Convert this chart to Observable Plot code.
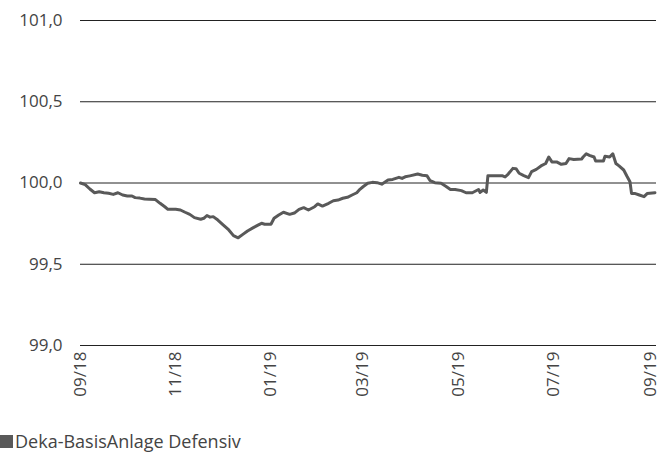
<!DOCTYPE html>
<html>
<head>
<meta charset="utf-8">
<script src="https://cdn.jsdelivr.net/npm/d3@7"></script>
<script src="https://cdn.jsdelivr.net/npm/@observablehq/plot@0.6"></script>
<style>
  html, body { margin: 0; padding: 0; background: #fff; }
  body { width: 670px; height: 461px; overflow: hidden; font-family: "Open Sans", sans-serif; }
  #legend { display: flex; align-items: center; margin-top: 9px; margin-left: 0; font-size: 18px; font-weight: 400; color: #444; }
  #legend .sw { width: 13px; height: 13px; background: #595959; margin-right: 2px; }
</style>
</head>
<body>
<div id="chart"></div>
<div id="legend"><span class="sw"></span><span id="legendLabel"></span></div>
<script>
const seriesName = "Deka-BasisAnlage Defensiv";
const dates = [
  "2018-09-01","2018-09-04","2018-09-07","2018-09-10","2018-09-13","2018-09-16","2018-09-19","2018-09-22","2018-09-25","2018-09-28",
  "2018-10-01","2018-10-04","2018-10-06","2018-10-09","2018-10-12","2018-10-15","2018-10-19","2018-10-22","2018-10-25","2018-10-27",
  "2018-11-01","2018-11-04","2018-11-07","2018-11-10","2018-11-13","2018-11-17","2018-11-19","2018-11-21","2018-11-23","2018-11-25",
  "2018-11-28","2018-12-01","2018-12-05","2018-12-08","2018-12-11","2018-12-14","2018-12-17","2018-12-21","2018-12-24","2018-12-26",
  "2018-12-28","2019-01-01","2019-01-03","2019-01-06","2019-01-09","2019-01-13","2019-01-16","2019-01-19","2019-01-22","2019-01-25",
  "2019-01-29","2019-01-31","2019-02-03","2019-02-07","2019-02-10","2019-02-13","2019-02-16","2019-02-19","2019-02-22","2019-02-25",
  "2019-02-27","2019-03-01","2019-03-04","2019-03-07","2019-03-10","2019-03-13","2019-03-17","2019-03-20","2019-03-24","2019-03-26",
  "2019-03-28","2019-03-31","2019-04-05","2019-04-08","2019-04-11","2019-04-13","2019-04-16","2019-04-20","2019-04-23","2019-04-26",
  "2019-04-29","2019-05-03","2019-05-06","2019-05-10","2019-05-14","2019-05-15","2019-05-17","2019-05-19","2019-05-20","2019-05-25",
  "2019-05-29","2019-05-31","2019-06-02","2019-06-05","2019-06-07","2019-06-09","2019-06-12","2019-06-15","2019-06-17","2019-06-20",
  "2019-06-23","2019-06-26","2019-06-28","2019-06-30","2019-07-03","2019-07-06","2019-07-09","2019-07-11","2019-07-14","2019-07-19",
  "2019-07-20","2019-07-22","2019-07-24","2019-07-27","2019-07-28","2019-08-02","2019-08-03","2019-08-06","2019-08-08","2019-08-10",
  "2019-08-12","2019-08-15","2019-08-17","2019-08-19","2019-08-20","2019-08-22","2019-08-25","2019-08-28","2019-08-30","2019-09-04"
];
const values = [
  100.00, 99.99, 99.963, 99.94, 99.946, 99.94, 99.937, 99.93, 99.94, 99.926,
  99.92, 99.92, 99.91, 99.907, 99.902, 99.90, 99.898, 99.875, 99.854, 99.838,
  99.838, 99.834, 99.82, 99.807, 99.787, 99.777, 99.783, 99.80, 99.79, 99.793,
  99.772, 99.746, 99.711, 99.676, 99.663, 99.684, 99.705, 99.727, 99.742, 99.752,
  99.746, 99.746, 99.783, 99.803, 99.82, 99.807, 99.815, 99.838, 99.848, 99.834,
  99.854, 99.871, 99.858, 99.875, 99.891, 99.895, 99.906, 99.912, 99.926, 99.94,
  99.961, 99.977, 99.998, 100.004, 100.002, 99.993, 100.018, 100.022, 100.035, 100.028,
  100.038, 100.044, 100.055, 100.048, 100.044, 100.014, 100.002, 99.998, 99.98, 99.96,
  99.96, 99.953, 99.94, 99.94, 99.96, 99.942, 99.957, 99.942, 100.045, 100.045,
  100.045, 100.037, 100.055, 100.09, 100.088, 100.06, 100.045, 100.033, 100.07, 100.084,
  100.105, 100.12, 100.16, 100.13, 100.13, 100.115, 100.12, 100.15, 100.145, 100.147,
  100.16, 100.18, 100.17, 100.16, 100.135, 100.135, 100.165, 100.16, 100.18, 100.12,
  100.105, 100.08, 100.043, 100.008, 99.936, 99.936, 99.926, 99.916, 99.935, 99.94
];
const yTicks = [99.0, 99.5, 100.0, 100.5, 101.0];
const xTickDates = ["2018-09-01","2018-11-01","2019-01-01","2019-03-01","2019-05-01","2019-07-01","2019-09-01"];
const xDomain = ["2018-09-01","2019-09-05"];

const parse = d3.utcParse("%Y-%m-%d");
const data = dates.map((d, i) => ({date: parse(d), value: values[i]}));
const fmtY = d => d.toFixed(1).replace(".", ",");
const fmtX = d3.utcFormat("%m/%y");

const chart = Plot.plot({
  width: 670,
  height: 420,
  marginLeft: 80,
  marginRight: 14,
  marginTop: 20,
  marginBottom: 75,
  style: {fontFamily: "'Open Sans', sans-serif", fontSize: "17px", fontWeight: 400, color: "#444", background: "#fff"},
  x: {type: "utc", domain: xDomain.map(parse), label: null},
  y: {domain: [99, 101], label: null},
  marks: [
    Plot.ruleY(yTicks, {stroke: "#222", strokeWidth: 1}),
    Plot.axisY(yTicks, {tickSize: 0, tickPadding: 18, tickFormat: fmtY, fontSize: 17, fill: "#444", label: null}),
    Plot.axisX(xTickDates.map(parse), {tickSize: 0, tickPadding: 6, tickRotate: -90, tickFormat: fmtX, fontSize: 17, fill: "#444", label: null}),
    Plot.line(data, {x: "date", y: "value", stroke: "#595959", strokeWidth: 3, strokeLinejoin: "round"})
  ]
});
document.getElementById("chart").appendChild(chart);
document.getElementById("legendLabel").textContent = seriesName;
</script>
</body>
</html>
